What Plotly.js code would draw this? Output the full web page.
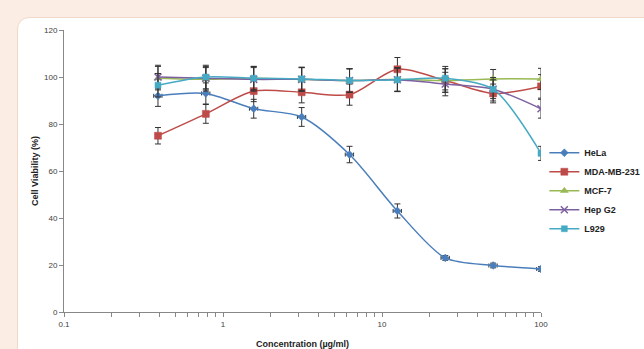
<!DOCTYPE html>
<html><head><meta charset="utf-8">
<script src="https://cdn.plot.ly/plotly-3.0.1.min.js"></script>
<style>
html,body{margin:0;padding:0;width:644px;height:349px;overflow:hidden;background:#fbede3;}
#panel{position:absolute;left:17px;top:17px;width:700px;height:400px;background:#fff;border-radius:12px;border:1px solid #f1d9c8;}
#chart{position:absolute;left:0;top:0;width:644px;height:349px;}
</style></head>
<body>
<div id="panel"></div>
<div id="chart"></div>
<script>
const conc = [0.39, 0.78, 1.56, 3.125, 6.25, 12.5, 25, 50, 100];
const seriesNames = ["HeLa", "MDA-MB-231", "MCF-7", "Hep G2", "L929"];
const hela = [92, 93, 86.5, 83, 67, 43, 23, 19.8, 18.3];
const helaErr = [4.5, 4.5, 4, 4, 3.5, 3, 1, 1, 1];
const mda = [75, 84.3, 94, 93.5, 92.5, 103.3, 98.5, 93, 96];
const mdaErr = [3.5, 4, 4.5, 4.5, 4.5, 5, 5, 4, 5];
const mcf7 = [99.5, 99, 99.5, 99, 98.5, 99, 98.5, 99.2, 99.2];
const mcf7Err = [5, 5, 5, 5, 5, 5, 5, 4, 4.5];
const hepg2 = [100, 99.5, 99, 99, 98.5, 98.8, 97, 94.8, 86.5];
const hepg2Err = [5, 5, 5, 5, 5, 5, 5, 5, 4];
const l929 = [96.5, 100, 99.5, 99.2, 98.5, 98.8, 99.5, 94.8, 67.5];
const l929Err = [5, 5, 5, 5, 5, 5, 5, 4, 3];
const xTickVals = [0.1, 1, 10, 100];
const xTickText = ["0.1", "1", "10", "100"];
const xMinorVals = [0.2, 0.3, 0.4, 0.5, 0.6, 0.7, 0.8, 0.9, 2, 3, 4, 5, 6, 7, 8, 9, 20, 30, 40, 50, 60, 70, 80, 90];

const colors = ["#4a7ebb", "#be4b48", "#98b954", "#7d60a0", "#46aac5"];
const symbols = ["diamond", "square", "triangle-up", "x-thin-open", "square"];
const sizes = [6, 7, 7, 7, 6];
const ys = [hela, mda, mcf7, hepg2, l929];
const errs = [helaErr, mdaErr, mcf7Err, hepg2Err, l929Err];

const traces = seriesNames.map((n, i) => {
  const t = {
    x: conc, y: ys[i], name: n, type: "scatter", mode: "lines+markers",
    line: {color: colors[i], width: 1.5, shape: "spline", smoothing: 0.8},
    marker: {symbol: symbols[i], size: sizes[i], color: colors[i],
             line: {color: colors[i], width: i === 3 ? 1.5 : 0.5}},
    error_y: {type: "data", array: errs[i], visible: true, color: "#333", thickness: 1, width: 3}
  };
  if (i === 0) t.error_x = {type: "percent", value: 6, visible: true, color: "#333", thickness: 1, width: 2};
  return t;
});

const layout = {
  width: 644, height: 349,
  paper_bgcolor: "rgba(0,0,0,0)", plot_bgcolor: "rgba(0,0,0,0)",
  margin: {l: 64, r: 103, t: 30, b: 37, autoexpand: false},
  font: {family: "Liberation Sans, Arial, sans-serif", size: 8, color: "#404040"},
  showlegend: true,
  legend: {x: 1.007, xanchor: "left", y: 0.43, yanchor: "middle",
           font: {size: 9, color: "#222", family: "Liberation Sans, Arial, sans-serif", weight: "bold"},
           bgcolor: "rgba(0,0,0,0)", tracegroupgap: 0, itemwidth: 30},
  xaxis: {type: "log", range: [-1, 2], showgrid: false, zeroline: false,
          showline: true, linecolor: "#888", linewidth: 1,
          ticks: "outside", ticklen: 4, tickcolor: "#888",
          tickvals: xTickVals, ticktext: xTickText,
          minor: {tickmode: "array", tickvals: xMinorVals, ticks: "outside", ticklen: 4, tickcolor: "#888", showgrid: false},
          tickfont: {size: 8, color: "#404040"},
          title: {text: "Concentration (µg/ml)", standoff: 13,
                  font: {size: 9, color: "#222", weight: "bold"}}},
  yaxis: {range: [0, 120], dtick: 20, showgrid: false, zeroline: false,
          showline: true, linecolor: "#888", linewidth: 1,
          ticks: "outside", ticklen: 4, tickcolor: "#888",
          tickfont: {size: 8, color: "#404040"},
          title: {text: "Cell Viability (%)", standoff: 3,
                  font: {size: 9, color: "#222", weight: "bold"}}}
};
Plotly.newPlot("chart", traces, layout, {displayModeBar: false, staticPlot: true});
</script>
</body></html>
